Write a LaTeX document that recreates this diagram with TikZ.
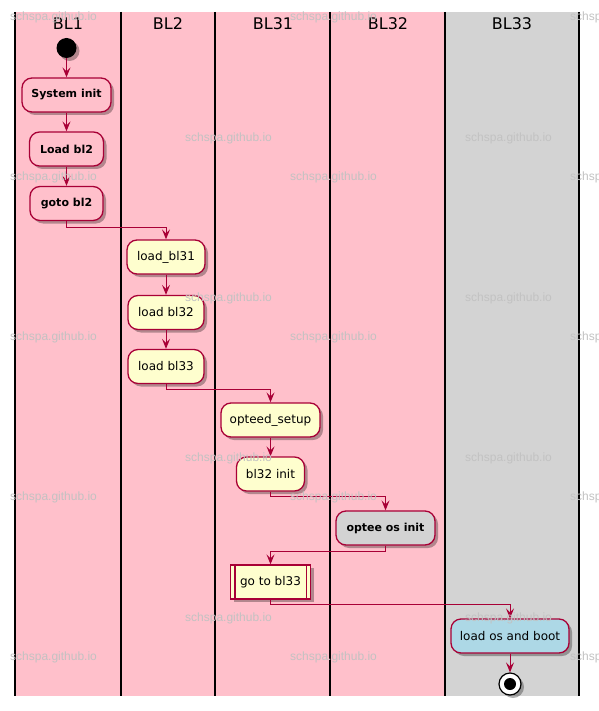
\documentclass[tikz,border=0pt]{standalone}
\usepackage{fontspec}
\setmainfont{DejaVu Sans}
\newfontfamily\wmfont{Liberation Sans}
\usetikzlibrary{arrows.meta,shadows}
\definecolor{pumlred}{HTML}{A80036}
\definecolor{lanepink}{HTML}{FFC0CB}
\definecolor{lanegray}{HTML}{D3D3D3}
\definecolor{actyellow}{HTML}{FEFECE}
\definecolor{actblue}{HTML}{ADD8E6}
\definecolor{wmgray}{HTML}{C2C2C2}
\tikzset{
  shad/.style={drop shadow={shadow xshift=3pt, shadow yshift=-3pt, opacity=0.3, fill=black}},
  act/.style={draw=pumlred, line width=1.3pt, rounded corners=10pt, minimum height=34pt,
    inner sep=0pt, font=\fontsize{12}{14}\selectfont, shad},
  actb/.style={act, font=\bfseries\fontsize{11}{13}\selectfont},
  subproc/.style={draw=pumlred, line width=1.3pt, minimum height=34pt, inner sep=0pt,
    font=\fontsize{12}{14}\selectfont, fill=actyellow, shad},
  arr/.style={draw=pumlred, line width=1pt, -{Stealth[length=10pt,width=8pt,inset=4pt]}},
  lanehead/.style={anchor=base, inner sep=0pt, font=\fontsize{16}{18}\selectfont},
  laneline/.style={draw=black, line width=1.8pt},
  wm/.style={anchor=west, inner sep=0pt, text=wmgray, font=\wmfont\fontsize{12}{14}\selectfont},
}
\begin{document}
\begin{tikzpicture}[x=1pt,y=-1pt]
\useasboundingbox (0,0) rectangle (598,711);
\fill[white] (0,0) rectangle (598,711);
% lanes
\fill[lanepink] (15,12) rectangle (445,696);
\fill[lanegray] (445,12) rectangle (579,696);
\foreach \x in {15,121,215,330,445,579} \draw[laneline] (\x,12) -- (\x,696);
\node[lanehead] (h1) at (68,30) {BL1};
\node[lanehead] (h2) at (168,30) {BL2};
\node[lanehead] (h3) at (273,30) {BL31};
\node[lanehead] (h4) at (388,30) {BL32};
\node[lanehead] (h5) at (512,30) {BL33};
% nodes
\node[circle, fill=black, minimum size=20pt, inner sep=0pt, shad] (start) at (66.5,48) {};
\node[actb, fill=lanepink, minimum width=89pt] (sysinit) at (66.5,95) {System init};
\node[actb, fill=lanepink, minimum width=74pt] (loadbl2) at (66.5,149) {Load bl2};
\node[actb, fill=lanepink, minimum width=73pt] (gotobl2) at (66.5,203.5) {goto bl2};
\node[act, fill=actyellow, minimum width=78pt] (loadbl31) at (166,257) {load\_bl31};
\node[act, fill=actyellow, minimum width=76pt] (loadbl32) at (166,312.5) {load bl32};
\node[act, fill=actyellow, minimum width=76pt] (loadbl33) at (166,366.5) {load bl33};
\node[act, fill=actyellow, minimum width=99pt] (opteed) at (270.5,420) {opteed\_setup};
\node[act, fill=actyellow, minimum width=68pt] (bl32init) at (270.5,474) {bl32 init};
\node[actb, fill=lanegray, minimum width=99pt] (opteeinit) at (385.5,528) {optee os init};
\node[subproc, minimum width=80pt] (gotobl33) at (270.5,582) {go to bl33};
\draw[draw=pumlred, line width=1.3pt] ([xshift=5pt]gotobl33.north west) -- ([xshift=5pt]gotobl33.south west);
\draw[draw=pumlred, line width=1.3pt] ([xshift=-5pt]gotobl33.north east) -- ([xshift=-5pt]gotobl33.south east);
\node[act, fill=actblue, minimum width=118pt] (loados) at (510,636) {load os and boot};
\node[circle, draw=black, line width=1.2pt, fill=white, minimum size=22pt, inner sep=0pt, shad] (stop) at (510,684) {};
\node[circle, fill=black, minimum size=12pt, inner sep=0pt] (stopin) at (stop.center) {};
% connectors
\draw[arr] (start.south) -- (sysinit.north);
\draw[arr] (sysinit.south) -- (loadbl2.north);
\draw[arr] (loadbl2.south) -- (gotobl2.north);
\draw[arr] (gotobl2.south) -- ++(0,6) -| (loadbl31.north);
\draw[arr] (loadbl31.south) -- (loadbl32.north);
\draw[arr] (loadbl32.south) -- (loadbl33.north);
\draw[arr] (loadbl33.south) -- ++(0,5) -| (opteed.north);
\draw[arr] (opteed.south) -- (bl32init.north);
\draw[arr] (bl32init.south) -- ++(0,5) -| (opteeinit.north);
\draw[arr] (opteeinit.south) -- ++(0,6) -| (gotobl33.north);
\draw[arr] (gotobl33.south) -- ++(0,5) -| (loados.north);
\draw[arr] (loados.south) -- (stop.north);
% watermarks
\foreach \y [count=\i] in {17,177,337,497,657} {
  \node[wm] (wa\i) at (10,\y) {schspa.github.io};
  \node[wm] (wb\i) at (290,\y) {schspa.github.io};
  \node[wm] (wc\i) at (570,\y) {schspa.github.io};
}
\foreach \y [count=\i] in {138,298,458,618} {
  \node[wm] (wd\i) at (185,\y) {schspa.github.io};
  \node[wm] (we\i) at (465,\y) {schspa.github.io};
}
\end{tikzpicture}
\end{document}
